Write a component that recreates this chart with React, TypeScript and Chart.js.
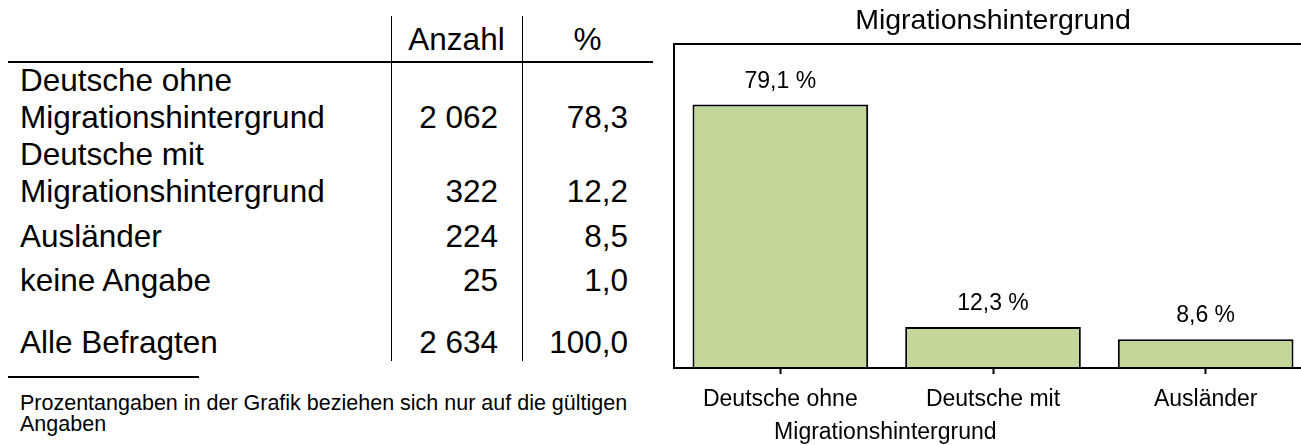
import React, { useEffect, useRef } from 'react';
import { Chart, registerables } from 'chart.js';

Chart.register(...registerables);

// ---- Chart data ----
const chartTitle = 'Migrationshintergrund';
const categories: string[][] = [
  ['Deutsche ohne', 'Migrationshintergrund'],
  ['Deutsche mit'],
  ['Ausländer'],
];
const percentValues: number[] = [79.1, 12.3, 8.6];
const percentLabels: string[] = ['79,1 %', '12,3 %', '8,6 %'];

// ---- Table data ----
const tableHeaders: string[] = ['Anzahl', '%'];
const rowLabels: string[][] = [
  ['Deutsche ohne', 'Migrationshintergrund'],
  ['Deutsche mit', 'Migrationshintergrund'],
  ['Ausländer'],
  ['keine Angabe'],
  ['Alle Befragten'],
];
const rowCounts: string[] = ['2 062', '322', '224', '25', '2 634'];
const rowPercents: string[] = ['78,3', '12,2', '8,5', '1,0', '100,0'];
const footnote: string[] = [
  'Prozentangaben in der Grafik beziehen sich nur auf die gültigen',
  'Angaben',
];

// layout (styles only)
const FONT = '"Liberation Sans", Arial, Helvetica, sans-serif';
const TABLE_FS = 31.5;
const rowBaselines: number[][] = [[92, 129], [166, 203], [248], [292], [354]];
const headerBaseline = 51;

type TProps = {
  x: number;
  baseline: number;
  size: number;
  text: string;
  align?: 'left' | 'right' | 'center';
};

function T({ x, baseline, size, text, align = 'left' }: TProps) {
  const top = baseline - 0.8465 * size;
  const W = 700;
  let left = x;
  if (align === 'right') left = x - W;
  if (align === 'center') left = x - W / 2;
  return (
    <div
      style={{
        position: 'absolute',
        left,
        top,
        width: W,
        fontSize: size,
        lineHeight: `${size}px`,
        textAlign: align,
        whiteSpace: 'nowrap',
        fontFamily: FONT,
        color: '#000',
      }}
    >
      {text}
    </div>
  );
}

function Line({ x, y, w, h }: { x: number; y: number; w: number; h: number }) {
  return <div style={{ position: 'absolute', left: x, top: y, width: w, height: h, background: '#000' }} />;
}

function BarChart() {
  const ref = useRef<HTMLCanvasElement | null>(null);
  useEffect(() => {
    if (!ref.current) return;
    const LABEL_FS = 23;
    const framePlugin = {
      id: 'framePlugin',
      afterDraw(chart: any) {
        const { ctx, chartArea } = chart;
        ctx.save();
        ctx.strokeStyle = '#000';
        ctx.lineWidth = 2;
        ctx.strokeRect(chartArea.left, chartArea.top, chartArea.right - chartArea.left, chartArea.bottom - chartArea.top);
        // value labels
        const meta = chart.getDatasetMeta(0);
        ctx.fillStyle = '#000';
        ctx.font = `${LABEL_FS}px ${FONT}`;
        ctx.textAlign = 'center';
        ctx.textBaseline = 'alphabetic';
        meta.data.forEach((bar: any, i: number) => {
          ctx.fillText(percentLabels[i], bar.x, bar.y - 17);
        });
        // continuation lines of wrapped category labels
        const xs = chart.scales.x;
        categories.forEach((lines, i) => {
          for (let k = 1; k < lines.length; k++) {
            ctx.fillText(lines[k], xs.getPixelForValue(i) + 105, 407 + 32 * k);
          }
        });
        ctx.restore();
      },
    };
    const chart = new Chart(ref.current, {
      type: 'bar',
      data: {
        labels: categories.map((c) => c.join(' ')),
        datasets: [
          {
            data: percentValues,
            backgroundColor: '#c4d79b',
            borderColor: '#000',
            borderWidth: 2,
            barPercentage: 0.826,
            categoryPercentage: 1,
          },
        ],
      },
      options: {
        responsive: false,
        animation: false,
        devicePixelRatio: 1,
        layout: { padding: { left: 34, right: 8, top: 0, bottom: 0 } },
        plugins: {
          legend: { display: false },
          tooltip: { enabled: false },
          title: {
            display: true,
            text: chartTitle,
            color: '#000',
            font: { family: FONT, size: 28.5, weight: 'normal' },
            padding: { top: 4, bottom: 5.8 },
          },
        },
        scales: {
          x: {
            offset: true,
            grid: {
              display: true,
              offset: false,
              drawOnChartArea: false,
              drawTicks: true,
              tickLength: 6,
              tickWidth: 2,
              tickColor: '#000',
              color: '#000',
            },
            border: { display: false },
            ticks: {
              color: '#000',
              font: { family: FONT, size: LABEL_FS },
              padding: 12,
              autoSkip: false,
              maxRotation: 0,
              minRotation: 0,
              callback: (_v: any, i: number) => categories[i][0],
            },
            afterFit: (scale: any) => {
              scale.height = 77;
            },
          },
          y: {
            display: false,
            min: 0,
            max: 97.3,
          },
        },
      },
      plugins: [framePlugin],
    });
    return () => chart.destroy();
  }, []);
  return <canvas ref={ref} width={680} height={445} style={{ position: 'absolute', left: 640, top: 0 }} />;
}

export default function App() {
  const sepX = [391, 522];
  const countRight = 498;
  const pctRight = 628;
  const textLeft = 20;
  return (
    <div
      style={{
        position: 'absolute',
        left: 0,
        top: 0,
        width: 1301,
        height: 445,
        overflow: 'hidden',
        background: '#fff',
      }}
    >
      {/* table header */}
      <T x={(sepX[0] + sepX[1]) / 2} baseline={headerBaseline} size={TABLE_FS} text={tableHeaders[0]} align="center" />
      <T x={(sepX[1] + 653) / 2} baseline={headerBaseline} size={TABLE_FS} text={tableHeaders[1]} align="center" />
      <Line x={8} y={61} w={645} h={2} />
      <Line x={sepX[0]} y={16} w={1} h={345} />
      <Line x={sepX[1]} y={16} w={1} h={345} />
      {rowLabels.map((lines, r) => (
        <React.Fragment key={r}>
          {lines.map((l, k) => (
            <T key={k} x={textLeft} baseline={rowBaselines[r][k]} size={TABLE_FS} text={l} />
          ))}
          <T x={countRight} baseline={rowBaselines[r][lines.length - 1]} size={TABLE_FS} text={rowCounts[r]} align="right" />
          <T x={pctRight} baseline={rowBaselines[r][lines.length - 1]} size={TABLE_FS} text={rowPercents[r]} align="right" />
        </React.Fragment>
      ))}
      <Line x={8} y={376} w={191} h={2} />
      {footnote.map((l, i) => (
        <T key={i} x={textLeft} baseline={411 + 21 * i} size={21.5} text={l} />
      ))}
      <BarChart />
    </div>
  );
}
